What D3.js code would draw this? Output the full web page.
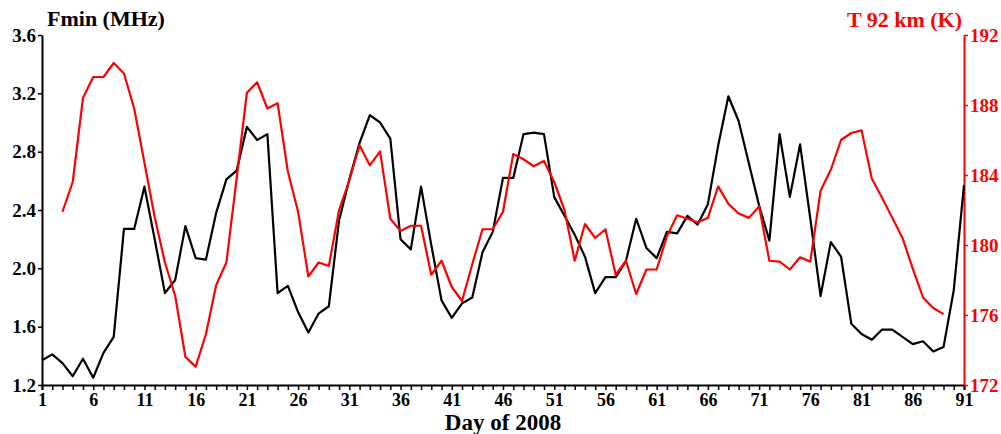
<!DOCTYPE html>
<html lang="en">
<head>
    <meta charset="utf-8">
    <title>Fmin and T 92 km</title>
    <style>
        body { margin: 0; background: #fff; }
        svg { display: block; }
        .tick text { font-family: "Liberation Serif", "Times New Roman", serif; font-weight: bold; }
    </style>
</head>
<body>
    <svg id="chart"></svg>

    <script src="https://cdnjs.cloudflare.com/ajax/libs/d3/7.8.5/d3.min.js"></script>
    <script>
        // Fmin (MHz), days 1..91
        const fmin = [
            1.37, 1.41, 1.35, 1.26, 1.38, 1.25, 1.42, 1.53, 2.27, 2.27,
            2.56, 2.20, 1.83, 1.92, 2.29, 2.07, 2.06, 2.38, 2.61, 2.67,
            2.97, 2.88, 2.92, 1.83, 1.88, 1.70, 1.56, 1.69, 1.74, 2.33,
            2.61, 2.86, 3.05, 3.00, 2.89, 2.20, 2.13, 2.56, 2.16, 1.78,
            1.66, 1.76, 1.80, 2.11, 2.25, 2.62, 2.62, 2.92, 2.93, 2.92,
            2.49, 2.36, 2.23, 2.08, 1.83, 1.94, 1.94, 2.05, 2.34, 2.14,
            2.07, 2.25, 2.24, 2.36, 2.30, 2.44, 2.84, 3.18, 3.01, 2.72,
            2.43, 2.19, 2.92, 2.49, 2.85, 2.34, 1.81, 2.18, 2.08, 1.62,
            1.55, 1.51, 1.58, 1.58, 1.53, 1.48, 1.50, 1.43, 1.46, 1.85,
            2.57
        ];

        // T at 92 km (K), days 3..89
        const tempStart = 3;
        const temp92 = [
            181.9, 183.6, 188.4, 189.6, 189.6, 190.4, 189.8, 187.8, 184.7, 181.6,
            179.0, 177.1, 173.6, 173.05, 174.9, 177.7, 179.0, 183.8, 188.7, 189.3,
            187.8, 188.1, 184.2, 181.9, 178.2, 179.0, 178.8, 182.0, 183.7, 185.7,
            184.55, 185.35, 181.5, 180.8, 181.1, 181.1, 178.3, 179.1, 177.6, 176.8,
            178.9, 180.9, 180.9, 181.9, 185.2, 184.9, 184.5, 184.8, 183.6, 182.0,
            179.1, 181.2, 180.4, 180.9, 178.3, 179.1, 177.2, 178.6, 178.6, 180.5,
            181.7, 181.5, 181.3, 181.55, 183.35, 182.35, 181.8, 181.55, 182.2, 179.1,
            179.05, 178.6, 179.3, 179.05, 183.1, 184.3, 186.0, 186.4, 186.55, 183.8,
            182.7, 181.55, 180.4, 178.65, 177.0, 176.4, 176.05
        ];

        const dayTicks = d3.range(1, 92, 5);
        const fminTicks = [1.2, 1.6, 2.0, 2.4, 2.8, 3.2, 3.6];
        const tempTicks = [172, 176, 180, 184, 188, 192];

        const width = 1001;
        const height = 434;
        const margin = { top: 35, right: 37, bottom: 49, left: 42 };

        const svg = d3.select('#chart')
            .attr('width', width)
            .attr('height', height);

        const x = d3.scaleLinear()
            .domain([1, 91])
            .range([margin.left, width - margin.right]);

        const yLeft = d3.scaleLinear()
            .domain([1.2, 3.6])
            .range([height - margin.bottom, margin.top]);

        const yRight = d3.scaleLinear()
            .domain([172, 192])
            .range([height - margin.bottom, margin.top]);

        // bottom axis: a tick every day, labels every 5 days
        const xAxis = svg.append('g')
            .attr('transform', `translate(0,${height - margin.bottom})`)
            .call(d3.axisBottom(x)
                .tickValues(d3.range(1, 92))
                .tickSize(5)
                .tickPadding(3)
                .tickFormat(d => dayTicks.includes(d) ? d : ''));
        xAxis.select('.domain').attr('stroke', '#000').attr('stroke-width', 2);
        xAxis.selectAll('.tick line').attr('stroke', '#000').attr('stroke-width', 1.5);
        xAxis.selectAll('.tick text').attr('font-size', 18).attr('fill', '#000');

        const leftAxis = svg.append('g')
            .attr('transform', `translate(${margin.left},0)`)
            .call(d3.axisLeft(yLeft)
                .tickValues(fminTicks)
                .tickSize(4)
                .tickSizeOuter(0)
                .tickPadding(2)
                .tickFormat(d3.format('.1f')));
        leftAxis.select('.domain').attr('stroke', '#000').attr('stroke-width', 2);
        leftAxis.selectAll('.tick line').attr('stroke', '#000').attr('stroke-width', 1.5);
        leftAxis.selectAll('.tick text').attr('font-size', 19).attr('fill', '#000');

        const rightAxis = svg.append('g')
            .attr('transform', `translate(${width - margin.right},0)`)
            .call(d3.axisRight(yRight)
                .tickValues(tempTicks)
                .tickSize(4)
                .tickSizeOuter(0)
                .tickPadding(2));
        rightAxis.select('.domain').attr('stroke', '#f00').attr('stroke-width', 2);
        rightAxis.selectAll('.tick line').attr('stroke', '#f00').attr('stroke-width', 1.5);
        rightAxis.selectAll('.tick text').attr('font-size', 19).attr('fill', '#f00');

        // lines
        const fminLine = d3.line()
            .x((d, i) => x(i + 1))
            .y(d => yLeft(d));

        const tempLine = d3.line()
            .x((d, i) => x(i + tempStart))
            .y(d => yRight(d));

        svg.append('path')
            .datum(fmin)
            .attr('fill', 'none')
            .attr('stroke', '#000')
            .attr('stroke-width', 2.2)
            .attr('stroke-linejoin', 'round')
            .attr('d', fminLine);

        svg.append('path')
            .datum(temp92)
            .attr('fill', 'none')
            .attr('stroke', '#f00')
            .attr('stroke-width', 2.2)
            .attr('stroke-linejoin', 'round')
            .attr('d', tempLine);

        // titles
        const font = '"Liberation Serif", "Times New Roman", serif';

        svg.append('text')
            .attr('x', 47)
            .attr('y', 26)
            .attr('font-family', font)
            .attr('font-weight', 'bold')
            .attr('font-size', 22)
            .attr('fill', '#000')
            .text('Fmin (MHz)');

        svg.append('text')
            .attr('x', width - margin.right - 2)
            .attr('y', 27)
            .attr('text-anchor', 'end')
            .attr('font-family', font)
            .attr('font-weight', 'bold')
            .attr('font-size', 22)
            .attr('fill', '#f00')
            .text('T 92 km (K)');

        svg.append('text')
            .attr('x', (margin.left + width - margin.right) / 2)
            .attr('y', 430)
            .attr('text-anchor', 'middle')
            .attr('font-family', font)
            .attr('font-weight', 'bold')
            .attr('font-size', 23)
            .attr('fill', '#000')
            .text('Day of 2008');
    </script>
</body>
</html>
